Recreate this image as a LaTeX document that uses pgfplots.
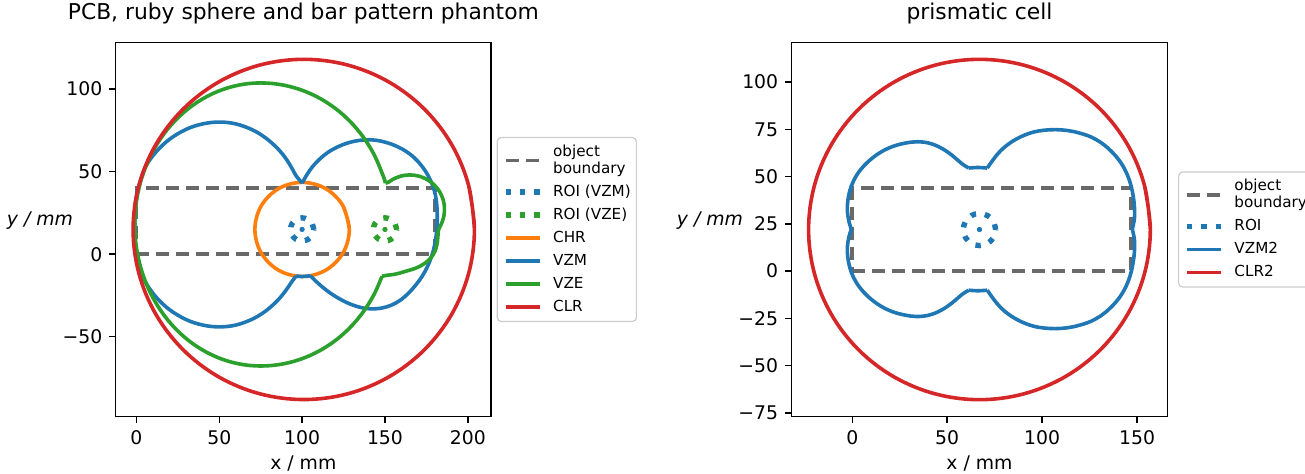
\documentclass[border=0pt]{standalone}
\usepackage{fontspec}
\setmainfont{DejaVu Sans}
\usepackage{pgfplots}
\pgfplotsset{compat=1.18}
\definecolor{tabblue}{HTML}{1F77B4}
\definecolor{taborange}{HTML}{FF7F0E}
\definecolor{tabgreen}{HTML}{2CA02C}
\definecolor{tabred}{HTML}{D62728}
\definecolor{bgray}{HTML}{696969}
\definecolor{legframe}{HTML}{CCCCCC}
\pgfplotsset{
  panel/.style={
    scale only axis,
    height=187.2pt,
    axis line style={line width=0.72pt},
    tick style={black, line width=0.72pt},
    major tick length=3.15pt,
    tick align=outside,
    tick pos=left,
    ticklabel style={font=\fontsize{9.4}{11}\selectfont},
    label style={font=\fontsize{9.4}{11}\selectfont},
    title style={font=\fontsize{10.9}{13}\selectfont, at={(axis description cs:0.5,1.0283)}, anchor=base},
    xlabel style={at={(axis description cs:0.5,-0.1397)}, anchor=base},
    legend cell align=left,
    legend style={font=\fontsize{7.6}{9.2}\selectfont, draw=legframe, line width=0.6pt,
      rounded corners=2pt, fill=white,
      at={(axis description cs:1,0.5)}, anchor=west,
      inner xsep=2.8pt, inner ysep=1.5pt,
      nodes={inner xsep=0pt, inner ysep=0pt, text height=7.9pt, text depth=3.6pt},
      row sep=0pt,
      /tikz/every odd column/.append style={column sep=5.35pt}},
  },
  bnd/.style={bgray, line width=1.9pt, dash pattern=on 6.5pt off 3.5pt,
    legend image code/.code={\draw[##1, overlay] (0cm,-5.7pt) -- (0.6cm,-5.7pt);}},
  roi/.style={line width=2.7pt, dash pattern=on 2.7pt off 4.45pt, smooth, tension=0.6},
  crv/.style={line width=1.8pt, line join=round, smooth, tension=0.6},
  ctr/.style={only marks, mark=*, mark size=1.1pt, forget plot},
}
\begin{document}
\begin{tikzpicture}
\useasboundingbox (0,0) rectangle (652.5pt,236.5pt);
% ---------------- left panel ----------------
\begin{axis}[panel, at={(57.85pt,28.15pt)}, anchor=south west, width=187.65pt,
  xmin=-12.5, xmax=214, ymin=-98.4, ymax=128.3,
  xtick={0,50,100,150,200}, xticklabels={0,50,100,150,200},
  ytick={-50,0,50,100}, yticklabels={−50,0,50,100},
  title={PCB, ruby sphere and bar pattern phantom},
  xlabel={x / mm}, ylabel={\textit{y / mm}},
  ylabel style={at={(axis description cs:-0.2017,0.525)}, rotate=-90, anchor=center},
  legend style={xshift=2.85pt},
]
\addplot[bnd] coordinates {(0,0) (180,0) (180,40) (0,40) (0,0)};
\addlegendentry[text height=7.9pt, text depth=0.6pt]{object}
\addlegendimage{empty legend}
\addlegendentry{boundary}
\addplot[roi, tabblue] coordinates {(107,15) (106.06,18.5) (103.5,21.06) (100,22) (96.5,21.06) (93.94,18.5) (93,15) (93.94,11.5) (96.5,8.94) (100,8) (103.5,8.94) (106.06,11.5) (107,15)};
\addlegendentry{ROI (VZM)}
\addplot[ctr, tabblue] coordinates {(100,15)};
\addplot[roi, tabgreen] coordinates {(157,15) (156.06,18.5) (153.5,21.06) (150,22) (146.5,21.06) (143.94,18.5) (143,15) (143.94,11.5) (146.5,8.94) (150,8) (153.5,8.94) (156.06,11.5) (157,15)};
\addlegendentry{ROI (VZE)}
\addplot[ctr, tabgreen] coordinates {(150,15)};
\addplot[crv, taborange] coordinates {(128.5,15) (124.68,29.25) (114.25,39.68) (100,43.5) (85.75,39.68) (75.32,29.25) (71.5,15) (75.32,0.75) (85.75,-9.68) (100,-13.5) (114.25,-9.68) (124.68,0.75) (128.5,15) (124.68,29.25)};
\addlegendentry{CHR}
% VZM
\addplot[crv, tabblue] coordinates {(100,43) (98.2,45.2) (96.1,47.9) (94,51.8) (90,58.2) (85,64.2) (78,70.4) (70,75.3) (60,78.9) (50,80) (40,78.9) (30,75.6) (20,69.6) (12,62.1) (6,53.9) (3,46.4) (1.6,41.5) (0.4,37) (-0.6,31) (-0.9,24) (-1,17) (-0.9,10) (-0.6,3) (0.3,-4.5) (2,-10.4) (6,-17.9) (12,-26.1) (20,-33.6) (30,-39.6) (40,-42.9) (50,-44) (60,-42.9) (70,-39.3) (78,-34.4) (85,-28.2) (90,-22.2) (93,-17.8) (95,-15) (96.5,-13.2)};
\addlegendentry{VZM}
\addplot[crv, tabblue, forget plot] coordinates {(96.5,-13.2) (100,-13.5) (105,-13.1)};
\addplot[crv, tabblue, forget plot] coordinates {(105,-13.1) (109,-17) (114,-21.3) (120,-25.5) (127,-29.3) (134,-31.9) (141,-33.1) (148,-32.6) (154,-30.8) (159.5,-27.7) (164,-23.8) (168.5,-18.8) (172.5,-13.3) (175.8,-7.2) (178.3,-0.8) (180,5.5) (181,12) (181.5,19) (181.5,26) (181,32.5) (179.8,38.5) (177.6,44.5) (174.5,50.2) (170.5,55.5) (165.5,60.3) (160,63.9) (154,66.6) (147.5,68.5) (141,69.3) (134.5,68.9) (128,67.5) (121.5,65) (115.5,61.6) (110.5,57.5) (106.3,53) (103,48.3) (100,43)};
% VZE
\addplot[crv, tabgreen] coordinates {(150.3,43) (148.96,47.31) (143.16,60.85) (135.28,73.09) (125.59,83.65) (114.35,92.22) (101.92,98.53) (88.66,102.4) (75,103.7) (61.81,102.4) (49.01,98.53) (37,92.22) (26.15,83.65) (16.78,73.09) (9.18,60.85) (3.58,47.31) (0.15,32.88) (-1,18) (0.15,3.12) (3.58,-11.31) (9.18,-24.85) (16.78,-37.09) (26.15,-47.65) (37,-56.22) (49.01,-62.53) (61.81,-66.4) (75,-67.7) (88.66,-66.4) (101.92,-62.53) (114.35,-56.22) (125.59,-47.65) (135.28,-37.09) (143.16,-24.85) (148.2,-13.4)};
\addlegendentry{VZE}
\addplot[crv, tabgreen, forget plot] coordinates {(148.2,-13.4) (151.5,-12.7) (155,-12.3) (159,-11.4) (163,-10.2) (166.5,-9.2) (170.5,-7.6) (174.5,-5.2) (177.6,-2.3) (179.9,1.3) (181.3,5.5) (181.9,10) (182.1,13) (182.6,15.56)};
\addplot[crv, tabgreen, forget plot] coordinates {(182.6,15.56) (184.4,19.2) (185.6,23.4) (185.9,28) (185.28,32.44) (183.19,37.5) (179.85,41.85) (175.5,45.19) (170.44,47.28) (165,48) (159.56,47.28) (154.5,45.19) (152.3,43.7) (150.3,43)};
% CLR
\addplot[crv, tabred] coordinates {(204,15) (200.49,41.66) (190.2,66.5) (173.83,87.83) (152.5,104.2) (127.66,114.49) (101,118) (74.34,114.49) (49.5,104.2) (28.17,87.83) (11.8,66.5) (1.51,41.66) (-2,15) (1.51,-11.66) (11.8,-36.5) (28.17,-57.83) (49.5,-74.2) (74.34,-84.49) (101,-88) (127.66,-84.49) (152.5,-74.2) (173.83,-57.83) (190.2,-36.5) (200.49,-11.66) (204,15) (200.49,41.66)};
\addlegendentry{CLR}
\end{axis}
% ---------------- right panel ----------------
\begin{axis}[panel, at={(395.75pt,28.15pt)}, anchor=south west, width=187.95pt,
  xmin=-32, xmax=166, ymin=-77, ymax=121,
  xtick={0,50,100,150}, xticklabels={0,50,100,150},
  ytick={-75,-50,-25,0,25,50,75,100}, yticklabels={−75,−50,−25,0,25,50,75,100},
  title={prismatic cell},
  xlabel={x / mm}, ylabel={\textit{y / mm}},
  ylabel style={at={(axis description cs:-0.2168,0.525)}, rotate=-90, anchor=center},
  legend style={xshift=5.3pt},
]
\addplot[bnd] coordinates {(0,0) (147,0) (147,44) (0,44) (0,0)};
\addlegendentry[text height=7.9pt, text depth=0.6pt]{object}
\addlegendimage{empty legend}
\addlegendentry{boundary}
\addplot[roi, tabblue] coordinates {(75.5,22) (74.36,26.25) (71.25,29.36) (67,30.5) (62.75,29.36) (59.64,26.25) (58.5,22) (59.64,17.75) (62.75,14.64) (67,13.5) (71.25,14.64) (74.36,17.75) (75.5,22)};
\addlegendentry{ROI}
\addplot[ctr, tabblue] coordinates {(67,22)};
% VZM2
\addplot[crv, tabblue] coordinates {(61.4,54.5) (66.2,54.8) (71.1,54.5)};
\addlegendentry{VZM2}
\addplot[crv, tabblue, forget plot] coordinates {(71.1,54.5) (74.5,59.3) (78.1,63.6) (83,67.7) (88.7,71) (95,73.4) (101,74.5) (107.1,74.8) (113,74.4) (119,73.2) (125.6,71) (131.5,67.6) (136.5,63.3) (140.8,58.3) (144.2,52.5) (146.6,46) (148,39.5) (148.7,33) (148.6,27.5) (147.5,22.2)};
\addplot[crv, tabblue, forget plot] coordinates {(147.5,22.2) (148.6,16.9) (148.7,11.4) (148,4.9) (146.6,-1.6) (144.2,-8.1) (140.8,-13.9) (136.5,-18.9) (131.5,-23.2) (125.6,-26.6) (119,-28.8) (113,-30) (107.1,-30.4) (101,-30.1) (95,-29) (88.7,-26.6) (83,-23.3) (78.1,-19.2) (74.5,-14.9) (71.1,-10.1)};
\addplot[crv, tabblue, forget plot] coordinates {(71.1,-10.1) (66.2,-10.4) (61.4,-10.1)};
\addplot[crv, tabblue, forget plot] coordinates {(61.4,-10.1) (58,-12.2) (54.5,-15.2) (50.5,-18.4) (45.5,-21.4) (40,-23.4) (33.7,-24) (27.5,-23.2) (21,-21.4) (14.5,-18.2) (8.5,-13.6) (3.9,-8.6) (0.8,-3.6) (-1.2,1.6) (-2.3,6.9) (-2.6,12.4) (-1.8,17.9) (-0.5,22.2)};
\addplot[crv, tabblue, forget plot] coordinates {(-0.5,22.2) (-1.8,26.5) (-2.6,32) (-2.3,37.5) (-1.2,42.8) (0.8,48) (3.9,53) (8.5,58) (14.5,62.6) (21,65.8) (27.5,67.6) (33.7,68.4) (40,67.8) (45.5,65.8) (50.5,62.8) (54.5,59.6) (58,56.6) (61.4,54.5)};
% CLR2
\addplot[crv, tabred] coordinates {(157,22) (153.93,45.29) (144.94,67) (130.64,85.64) (112,99.94) (90.29,108.93) (67,112) (43.71,108.93) (22,99.94) (3.36,85.64) (-10.94,67) (-19.93,45.29) (-23,22) (-19.93,-1.29) (-10.94,-23) (3.36,-41.64) (22,-55.94) (43.71,-64.93) (67,-68) (90.29,-64.93) (112,-55.94) (130.64,-41.64) (144.94,-23) (153.93,-1.29) (157,22) (153.93,45.29)};
\addlegendentry{CLR2}
\end{axis}
\end{tikzpicture}
\end{document}
